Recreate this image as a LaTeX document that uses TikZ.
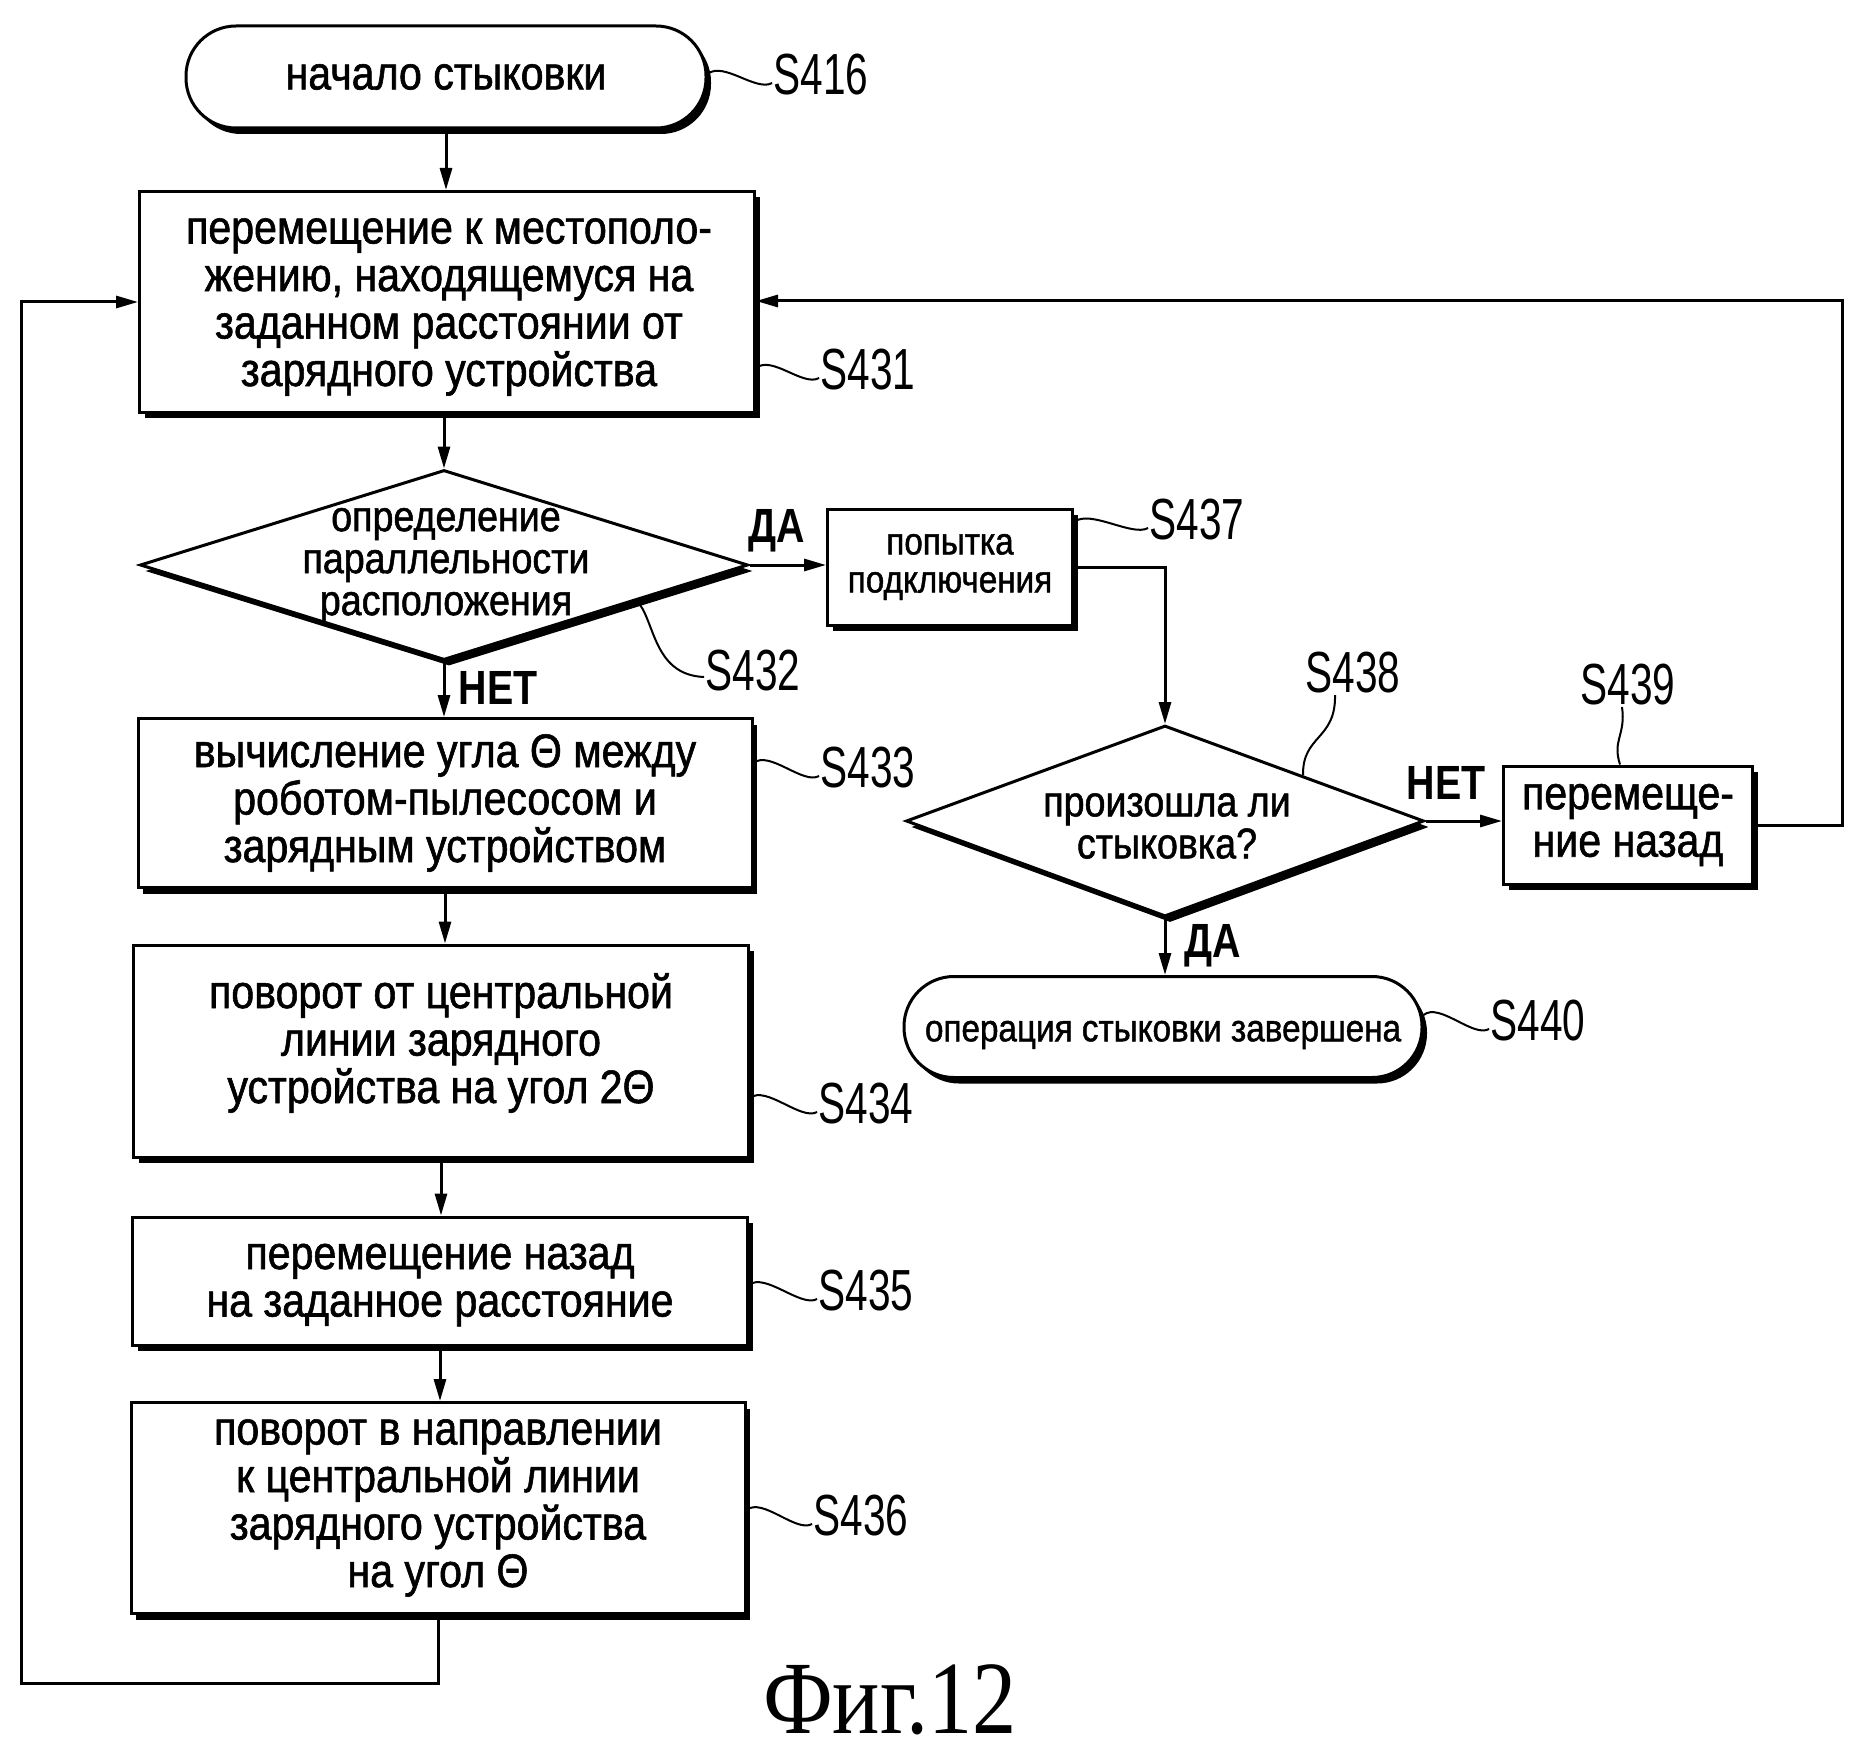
\documentclass[tikz,border=0pt]{standalone}
\usepackage{fontspec}
\setmainfont{Liberation Sans}
\newfontfamily\bodyf[FakeStretch=0.875,FakeBold=1.2]{Liberation Sans}
\newfontfamily\lblf[FakeStretch=0.7]{Liberation Sans}
\newfontfamily\ynf[FakeStretch=0.82]{Liberation Sans Bold}
\newfontfamily\figf[FakeStretch=0.85]{Liberation Serif}
\usetikzlibrary{shapes.geometric,shadows,arrows.meta,calc}
\newcommand\mytld[2]{\draw[lead] (#1) .. controls ($(#1)+(16,-13)$) and ($(#2)+(-16,9)$) .. (#2);}
\begin{document}
\begin{tikzpicture}[x=1pt,y=-1pt,line width=3pt,
  shad/.style={drop shadow={shadow xshift=5pt,shadow yshift=-6pt,fill=black,opacity=1}},
  proc/.style={draw,fill=white,shad,rectangle,inner sep=0pt,align=center,font=\bodyf\fontsize{47}{47.5}\selectfont},
  btext/.style={align=center,inner sep=0pt,font=\bodyf\fontsize{47}{47.5}\selectfont},
  term/.style={draw,fill=white,shad,rectangle,rounded corners=50pt,inner sep=0pt,align=center,font=\bodyf\fontsize{47}{47.5}\selectfont},
  dec/.style={draw,fill=white,shad,diamond,inner sep=0pt},
  dtext/.style={align=center,inner sep=0pt,font=\bodyf\fontsize{43}{42}\selectfont},
  arr/.style={-{Triangle[length=22pt,width=12pt]}},
  lbl/.style={font=\lblf\fontsize{58}{58}\selectfont,inner sep=0pt},
  yn/.style={font=\ynf\fontsize{48}{48}\selectfont,inner sep=0pt},
  lead/.style={line width=2pt}
]
\useasboundingbox (0,0) rectangle (1861,1760);

% nodes
\node[term,minimum width=520,minimum height=102] (t416) at (446,77) {начало стыковки};
\node[proc,minimum width=615,minimum height=221] (b431) at (447,302) {};
\node[btext] (b431t) at (449,307)
  {перемещение к местополо-\\жению, находящемуся на\\заданном расстоянии от\\зарядного устройства};
\node[dec,minimum width=608,minimum height=190] (d432) at (444,565) {};
\node[dtext] (d432t) at (446,566) {определение\\параллельности\\расположения};
\node[proc,minimum width=245,minimum height=116,font=\bodyf\fontsize{38}{38}\selectfont] (b437) at (950,567) {попытка\\подключения};
\node[dec,minimum width=518,minimum height=191] (d438) at (1165,821) {};
\node[dtext] (d438t) at (1167,826) {произошла ли\\стыковка?};
\node[proc,minimum width=249,minimum height=118] (b439) at (1628,825) {перемеще-\\ние назад};
\node[term,minimum width=518,minimum height=101] (t440) at (1163,1027) {};
\node[inner sep=0pt,font=\bodyf\fontsize{38}{38}\selectfont] (t440t) at (1163,1035) {операция стыковки завершена};
\node[proc,minimum width=614,minimum height=169] (b433) at (445,803)
  {вычисление угла Θ между\\роботом-пылесосом и\\зарядным устройством};
\node[proc,minimum width=615,minimum height=212] (b434) at (441,1051) {};
\node[btext] (b434t) at (441,1043)
  {поворот от центральной\\линии зарядного\\устройства на угол 2Θ};
\node[proc,minimum width=615,minimum height=128] (b435) at (440,1281) {};
\node[btext] (b435t) at (440,1285)
  {перемещение назад\\на заданное расстояние};
\node[proc,minimum width=614,minimum height=211] (b436) at (438,1508)
  {поворот в направлении\\к центральной линии\\зарядного устройства\\на угол Θ};

% step labels
\node[lbl] (l416) at (821,75) {S416};
\node[lbl] (l431) at (868,370) {S431};
\node[lbl] (l432) at (753,671) {S432};
\node[lbl] (l437) at (1197,520) {S437};
\node[lbl] (l438) at (1353,673) {S438};
\node[lbl] (l439) at (1628,685) {S439};
\node[lbl] (l440) at (1538,1021) {S440};
\node[lbl] (l433) at (868,768) {S433};
\node[lbl] (l434) at (866,1104) {S434};
\node[lbl] (l435) at (866,1291) {S435};
\node[lbl] (l436) at (861,1516) {S436};

% yes / no labels
\node[yn] (yes1) at (777,531) {ДА};
\node[yn] (no1) at (498,688) {НЕТ};
\node[yn] (no2) at (1446,783) {НЕТ};
\node[yn] (yes2) at (1213,946) {ДА};

\node[font=\figf\fontsize{104}{104}\selectfont,inner sep=0pt] (fig) at (890,1700) {Фиг.12};

% connectors
\draw[arr] (t416.south) -- (t416.south |- b431.north);
\draw[arr] (d432.north |- b431.south) -- (d432.north);
\draw[arr] (d432.east) -- (d432.east -| b437.west);
\draw[arr] (b437.east) -| (d438.north);
\draw[arr] (d438.east) -- (d438.east -| b439.west);
\coordinate (rr) at (1842,301);
\draw[arr] (b439.east) -| (rr) -- (rr -| b431.east);
\draw[arr] (d438.south) -- (d438.south |- t440.north);
\draw[arr] (d432.south) -- (d432.south |- b433.north);
\draw[arr] (b433.south) -- (b433.south |- b434.north);
\draw[arr] (b434.south) -- (b434.south |- b435.north);
\draw[arr] (b435.south) -- (b435.south |- b436.north);
\coordinate (ll) at (21,1683);
\draw[arr] (b436.south) |- (ll) |- (b431.west);

% leaders
\mytld{[yshift=3pt]t416.east}{[yshift=-8pt]l416.west}
\mytld{[yshift=-66pt]b431.east}{[yshift=-8pt]l431.west}
\mytld{[yshift=45pt]b437.east}{[yshift=-8pt]l437.west}
\mytld{[yshift=12pt]t440.east}{[yshift=-8pt]l440.west}
\mytld{[yshift=40pt]b433.east}{[yshift=-8pt]l433.west}
\mytld{[yshift=-47pt]b434.east}{[yshift=-8pt]l434.west}
\mytld{[yshift=-4pt]b435.east}{[yshift=-8pt]l435.west}
\mytld{[yshift=-2pt]b436.east}{[yshift=-8pt]l436.west}
\coordinate (e432) at ($(d432.east)!0.37!(d432.south)$);
\draw[lead] (e432) .. controls (655,618) and (652,675) .. ([yshift=-6pt]l432.west);
\coordinate (e438) at ($(d438.north)!0.53!(d438.east)$);
\draw[lead] (e438) .. controls (1302,735) and (1336,740) .. ([xshift=-18pt]l438.south);
\coordinate (e439) at ([xshift=-8pt]b439.north);
\draw[lead] (e439) .. controls (1612,740) and (1626,735) .. ([xshift=-6pt]l439.south);
\end{tikzpicture}
\end{document}
